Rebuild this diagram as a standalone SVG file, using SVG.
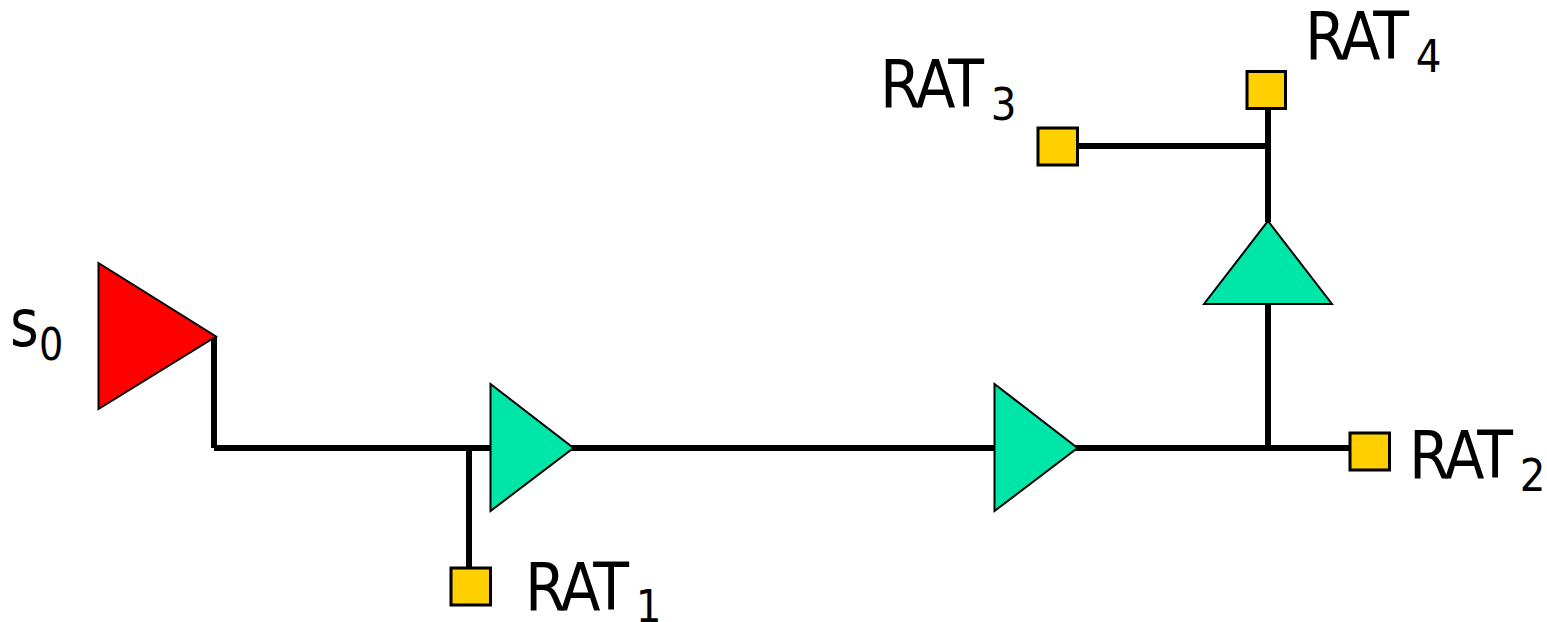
<svg xmlns="http://www.w3.org/2000/svg" width="1547" height="622" viewBox="0 0 1547 622">
<style>
.w{fill:none;stroke:#000;stroke-width:6}
.g{fill:#00e6a8;stroke:#000;stroke-width:2}
.r{fill:#f00;stroke:#000;stroke-width:2}
.s{fill:#ffcf00;stroke:#000;stroke-width:3}
text{font-family:"DejaVu Sans",sans-serif;fill:#000;font-size:65px}
.l{letter-spacing:-3px}
.b{font-size:45px}
</style>
<rect width="1547" height="622" fill="#fff"/>
<g id="connectors">
<path class="w" d="M214 336V448M214 448H1352M469 448V569M1268 448V304M1268 222V108M1268 146H1076"/>
</g>
<g id="source"><polygon class="r" points="98.500,263 216,336.500 98.500,409"/><text transform="translate(10 346) scale(.85 1)"><tspan class="l">s</tspan><tspan class="b" x="34" dy="14">0</tspan></text></g>
<g id="buffer1"><polygon class="g" points="490.500,384 573.500,448 490.500,511"/></g>
<g id="buffer2"><polygon class="g" points="994.500,384 1077.500,448 994.500,511"/></g>
<g id="buffer3"><polygon class="g" points="1268,221 1332,304 1204,304"/></g>
<g id="rat1"><rect class="s" x="451" y="568" width="39.500" height="37"/><text transform="translate(525 610) scale(.9 1)"><tspan class="l">RAT</tspan><tspan class="b" x="123" dy="12">1</tspan></text></g>
<g id="rat2"><rect class="s" x="1350" y="433" width="39.500" height="37"/><text transform="translate(1409 478) scale(.9 1)"><tspan class="l">RAT</tspan><tspan class="b" x="123" dy="13">2</tspan></text></g>
<g id="rat3"><rect class="s" x="1038" y="128" width="39.500" height="37"/><text transform="translate(880 107) scale(.9 1)"><tspan class="l">RAT</tspan><tspan class="b" x="123" dy="13">3</tspan></text></g>
<g id="rat4"><rect class="s" x="1247" y="71.500" width="38.500" height="37"/><text transform="translate(1305 59) scale(.9 1)"><tspan class="l">RAT</tspan><tspan class="b" x="123" dy="13">4</tspan></text></g>
</svg>
